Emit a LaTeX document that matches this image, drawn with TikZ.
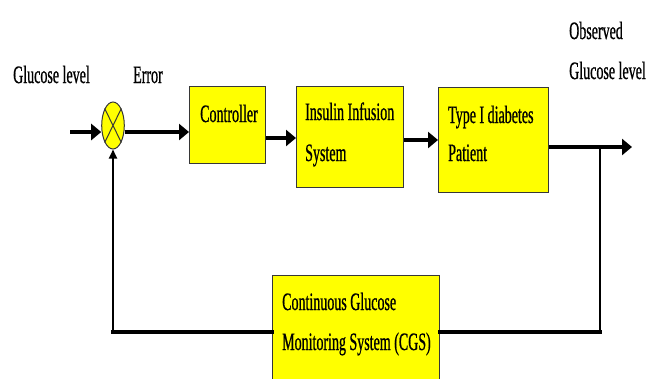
\documentclass[tikz,border=0pt]{standalone}
\usepackage{fontspec}
\setmainfont{Liberation Serif}[FakeStretch=0.56,FakeBold=0.7]
\usetikzlibrary{shapes.geometric,arrows.meta,calc}
\definecolor{boxyellow}{RGB}{255,255,0}
\definecolor{edgegray}{RGB}{55,55,55}
\tikzset{
 blockbox/.style={draw=edgegray, line width=1.2pt, fill=boxyellow, inner sep=0pt, anchor=north west},
 lbl/.style={anchor=base west, inner sep=0pt, font=\fontsize{25}{28}\selectfont},
 thickarrow/.style={line width=4.5pt, -{Triangle[length=10pt,width=16pt]}},
 thickline/.style={line width=4.5pt, line cap=rect},
 thinline/.style={line width=2pt},
 thinarrow/.style={line width=2pt, -{Triangle[length=9pt,width=8pt]}},
}
\begin{document}
\begin{tikzpicture}[x=1pt,y=-1pt]
\useasboundingbox (0,0) rectangle (660,378);
\clip (0,0) rectangle (660,378);
% blocks
\node[blockbox, minimum width=76pt, minimum height=77pt] (ctrl) at (189,86) {};
\node[blockbox, minimum width=107pt, minimum height=101pt] (ins) at (296,86) {};
\node[blockbox, minimum width=110pt, minimum height=105pt] (pat) at (438,87) {};
\node[draw=edgegray, line width=1pt, fill=boxyellow, ellipse, minimum width=22.6pt, minimum height=47pt, inner sep=0pt] (sum) at (113,125.5) {};
\draw[edgegray, line width=1pt] (sum.north west) -- (sum.south east) (sum.north east) -- (sum.south west);
% helper coordinates
\coordinate (inL) at (70,132);
\coordinate (y1) at (0,132);
\coordinate (y2) at (0,138);
\coordinate (y3) at (0,140);
\coordinate (outy) at (0,147);
\coordinate (outE) at (632,147);
\coordinate (tap) at (600,147);
\coordinate (br) at (600,332);
\coordinate (bl) at (sum.south |- br);
% forward path
\draw[thickarrow] (inL) -- (inL -| sum.west);
\draw[thickarrow] (sum.east |- y1) -- (ctrl.west |- y1);
\draw[thickarrow] (ctrl.east |- y2) -- (ins.west |- y2);
\draw[thickarrow] (ins.east |- y3) -- (pat.west |- y3);
\draw[thickarrow] (pat.east |- outy) -- (outE);
% feedback path
\draw[thinline] (tap) -- (br);
\node[blockbox, minimum width=167pt, minimum height=111pt] (cgs) at (272,275) {};
\draw[thickline] (br) -- (cgs.east |- br);
\draw[thickline] (cgs.west |- bl) -- (bl);
\draw[thinarrow] (bl) -- (sum.south);
% texts
\node[lbl] (t1) at (13,83) {Glucose level};
\node[lbl] (t2) at (133,83) {Error};
\node[lbl] (t3) at (569,39) {Observed};
\node[lbl] (t4) at (569,79) {Glucose level};
\node[lbl] (t5) at (200,122) {Controller};
\node[lbl] (t6) at (305,120) {Insulin Infusion};
\node[lbl] (t7) at (305,161) {System};
\node[lbl] (t8) at (448,123) {Type I diabetes};
\node[lbl] (t9) at (448,161) {Patient};
\node[lbl] (t10) at (282,310) {Continuous Glucose};
\node[lbl] (t11) at (282,350) {Monitoring System (CGS)};
\end{tikzpicture}
\end{document}
